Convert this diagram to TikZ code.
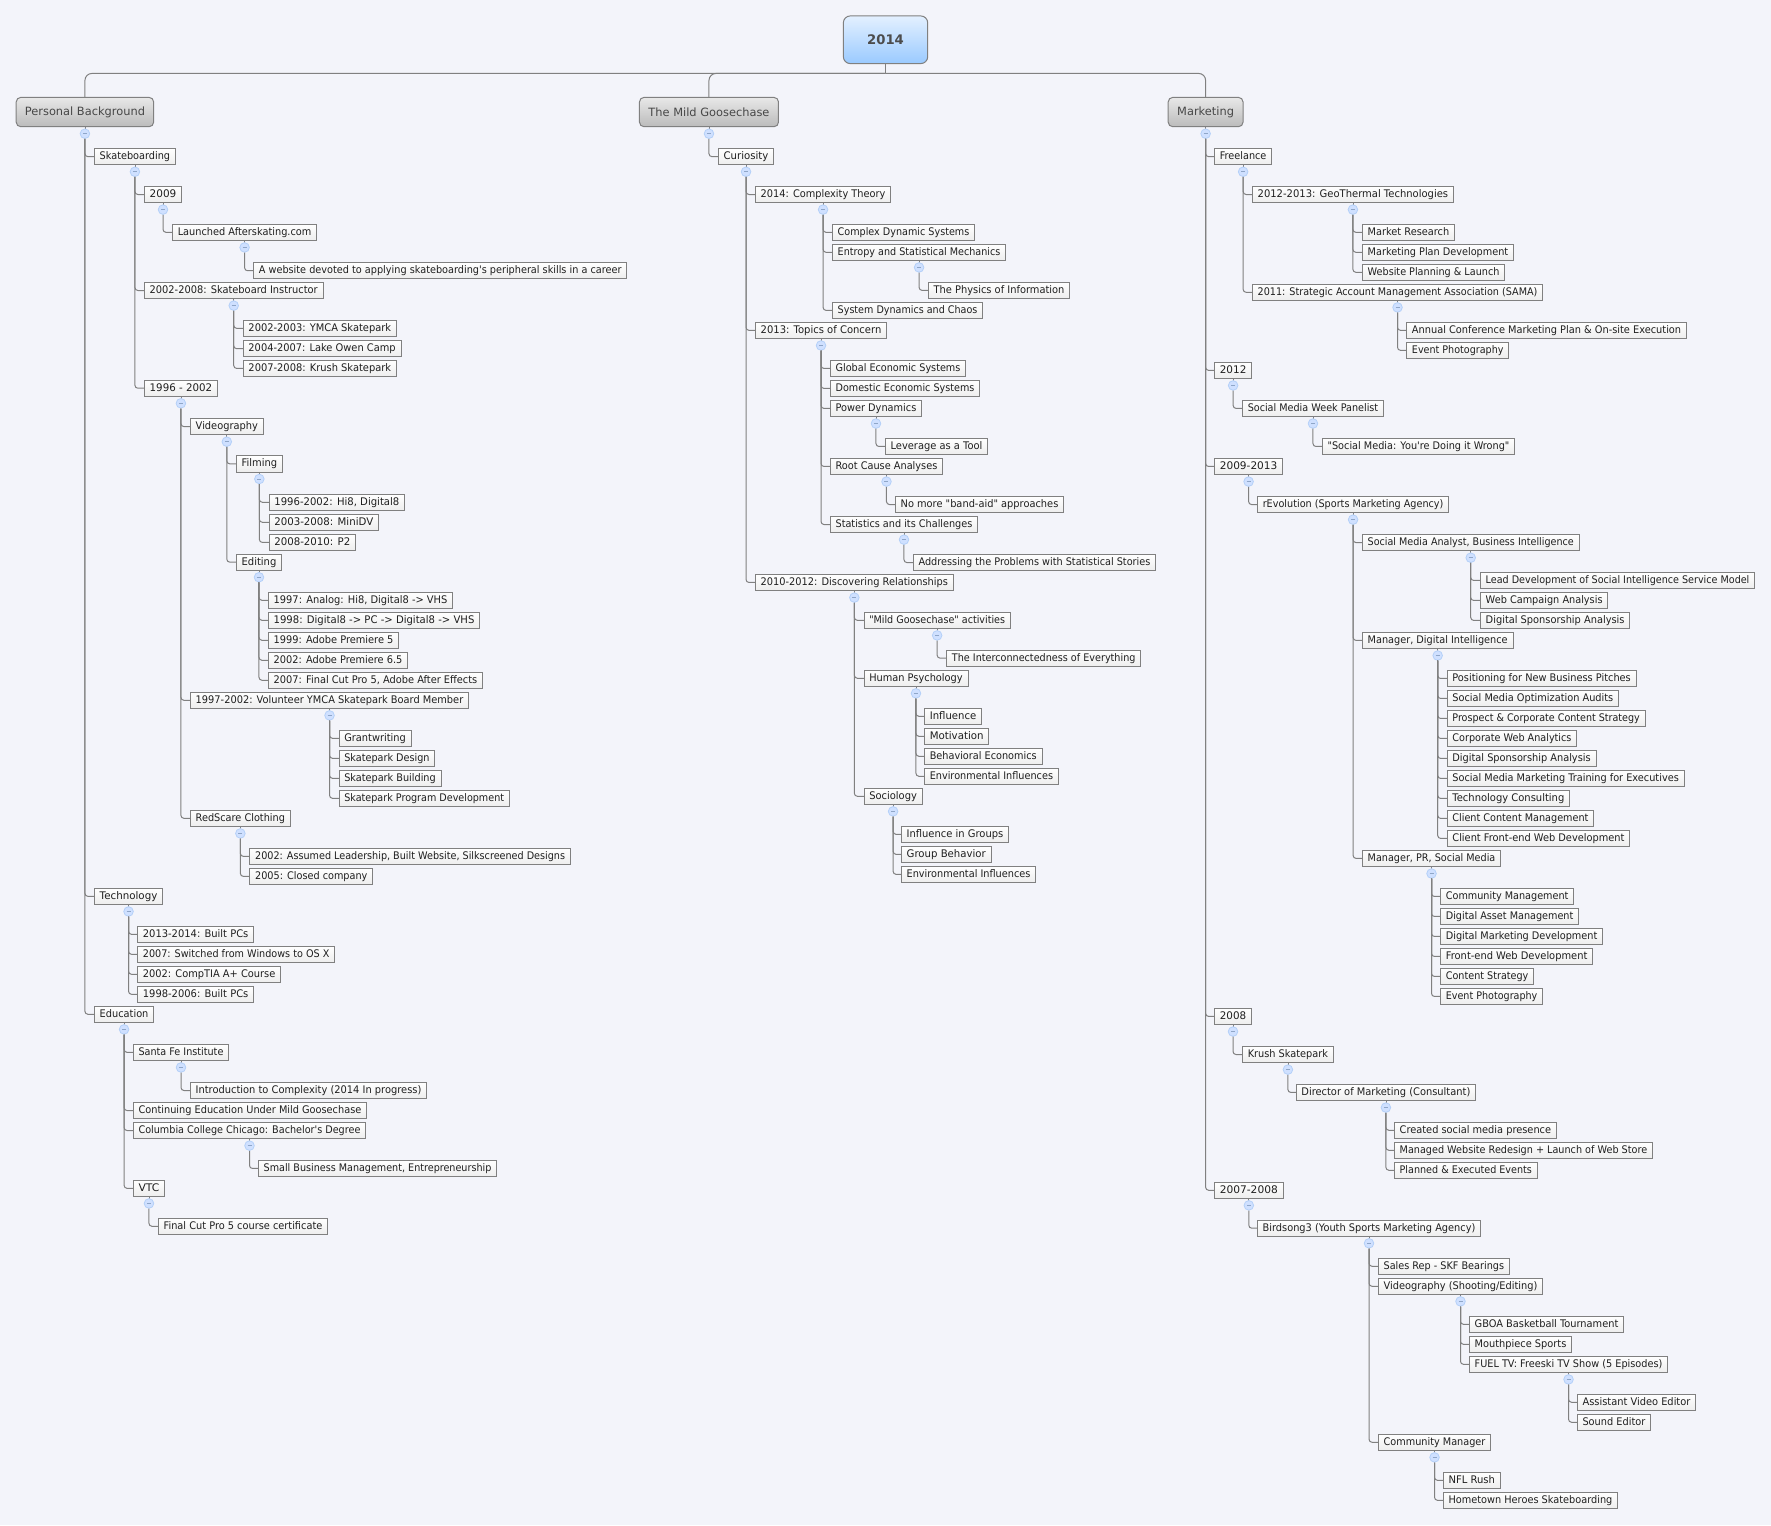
\documentclass[tikz,border=0pt]{standalone}
\usepackage{fontspec}
\usepackage{graphicx}
\newfontfamily\mmfont{DejaVu Sans}
\definecolor{bgc}{HTML}{F3F4FA}
\definecolor{linec}{HTML}{808080}
\definecolor{togf}{HTML}{CFE0FF}
\definecolor{togd}{HTML}{B4D0F8}
\definecolor{togm}{HTML}{8FA6C8}
\definecolor{rootT}{HTML}{E3F0FF}
\definecolor{rootB}{HTML}{9ACAFF}
\definecolor{brT}{HTML}{E8E8E8}
\definecolor{brB}{HTML}{BBBBBB}
\newsavebox\mmbox
\newcommand{\MMleaf}[6]{%
  \node[leafbox] (#1) at (#3,#4+.7) {\sbox\mmbox{#6}\pgfmathsetmacro\mmsc{((#5-#3)*1.1295-10.6)/\the\wd\mmbox}\scalebox{\mmsc}[1.08]{\usebox\mmbox}};
  \draw[conn] (t-#2) |- (#1.west);}
\newcommand{\MMtog}[1]{%
  \draw[linec,line width=.8pt] (#1.south) -- ++(0,-3pt);
  \node[togg] (t-#1) at ([yshift=-7pt]#1.south) {};}
\newcommand{\MMhub}[6]{\MMleaf{#1}{#2}{#3}{#4}{#5}{#6}\MMtog{#1}}
\tikzset{
  x=1.1295pt,y=-1.1295pt,
  conn/.style={draw=linec,line width=1pt,rounded corners=3pt},
  leafbox/.style={anchor=west,draw=linec,line width=.9pt,top color=white,bottom color=black!7,outer sep=0pt,
    font=\mmfont\fontsize{9.7}{11}\selectfont,
    inner xsep=5.3pt,inner ysep=0pt,minimum height=16.2pt,text height=8.2pt,text depth=2.4pt,text=black!88},
  branch/.style={draw=linec,line width=1pt,rounded corners=4.5pt,top color=brT,bottom color=brB,outer sep=0pt,
    text=black!72,font=\mmfont\fontsize{11.4}{13}\selectfont,inner xsep=0pt,inner ysep=0pt,minimum height=29.3pt},
  rootbox/.style={draw=linec,line width=1pt,rounded corners=7pt,top color=rootT,bottom color=rootB,outer sep=0pt,
    text=black!70,font=\mmfont\bfseries\fontsize{13.2}{16}\selectfont,minimum width=84.4pt,minimum height=47.7pt},
  togg/.style={circle,draw=togd,fill=togf,line width=.8pt,minimum size=9.6pt,inner sep=0pt,
    path picture={\draw[togm,line width=.7pt] ([xshift=-2pt]path picture bounding box.center) -- ([xshift=2pt]path picture bounding box.center);}},
}
\begin{document}
\begin{tikzpicture}
\fill[bgc] (0,0) rectangle (1567.96,1350.2);
\useasboundingbox (0,0) rectangle (1567.96,1350.2);
\node[rootbox] (root) at (784,35.2) {2014};
\coordinate (bar) at (784,65);
\node[branch,minimum width=137.4pt] (pb) at (75.2,99.2) {Personal Background};
\node[branch,minimum width=139pt] (mg) at (627.7,99.2) {The Mild Goosechase};
\node[branch,minimum width=74.8pt] (mk) at (1067.4,99.2) {Marketing};
\draw[conn] (root.south) -- (bar);
\draw[conn,rounded corners=7pt] (bar) -| (pb.north);
\draw[conn,rounded corners=7pt] (bar) -| (mg.north);
\draw[conn,rounded corners=7pt] (bar) -| (mk.north);
\MMtog{pb}\MMtog{mg}\MMtog{mk}
% Personal Background
\MMhub{a1}{pb}{83.6}{138}{155.3}{Skateboarding}
\MMhub{a2}{a1}{127.85}{171.5}{160.8}{2009}
\MMhub{a3}{a2}{152.7}{205}{280.4}{Launched Afterskating.com}
\MMleaf{a4}{a3}{224.5}{239}{555}{A website devoted to applying skateboarding's peripheral skills in a career}
\MMhub{a5}{a1}{127.85}{256.5}{286}{2002-2008: Skateboard Instructor}
\MMleaf{a6}{a5}{215.3}{290}{351}{2002-2003: YMCA Skatepark}
\MMleaf{a7}{a5}{215.3}{308}{355}{2004-2007: Lake Owen Camp}
\MMleaf{a8}{a5}{215.3}{325.5}{351}{2007-2008: Krush Skatepark}
\MMhub{a9}{a1}{127.85}{343}{192.5}{1996 - 2002}
\MMhub{a10}{a9}{168.6}{377}{233}{Videography}
\MMhub{a11}{a10}{209.2}{410}{250}{Filming}
\MMleaf{a12}{a11}{238.2}{444}{358.3}{1996-2002: Hi8, Digital8}
\MMleaf{a13}{a11}{238.2}{461.7}{335.2}{2003-2008: MiniDV}
\MMleaf{a14}{a11}{238.2}{479.5}{314.9}{2008-2010: P2}
\MMhub{a15}{a10}{209.2}{497}{249.4}{Editing}
\MMleaf{a16}{a15}{237.6}{530.8}{400.8}{1997: Analog: Hi8, Digital8 -> VHS}
\MMleaf{a17}{a15}{237.6}{548.5}{424.7}{1998: Digital8 -> PC -> Digital8 -> VHS}
\MMleaf{a18}{a15}{237.6}{566.2}{353}{1999: Adobe Premiere 5}
\MMleaf{a19}{a15}{237.6}{583.9}{361}{2002: Adobe Premiere 6.5}
\MMleaf{a20}{a15}{237.6}{601.6}{427.3}{2007: Final Cut Pro 5, Adobe After Effects}
\MMhub{a21}{a9}{168.6}{619.3}{414.9}{1997-2002: Volunteer YMCA Skatepark Board Member}
\MMleaf{a22}{a21}{300.15}{653}{364}{Grantwriting}
\MMleaf{a23}{a21}{300.15}{670.7}{385}{Skatepark Design}
\MMleaf{a24}{a21}{300.15}{688.4}{390.5}{Skatepark Building}
\MMleaf{a25}{a21}{300.15}{706.1}{451}{Skatepark Program Development}
\MMhub{a26}{a9}{168.6}{723.8}{257}{RedScare Clothing}
\MMleaf{a27}{a26}{221.2}{757.5}{505}{2002: Assumed Leadership, Built Website, Silkscreened Designs}
\MMleaf{a28}{a26}{221.2}{775.2}{330}{2005: Closed company}
\MMhub{a29}{pb}{83.6}{792.9}{144}{Technology}
\MMleaf{a30}{a29}{121.8}{826.5}{224.6}{2013-2014: Built PCs}
\MMleaf{a31}{a29}{121.8}{844.2}{296.3}{2007: Switched from Windows to OS X}
\MMleaf{a32}{a29}{121.8}{861.9}{248.5}{2002: CompTIA A+ Course}
\MMleaf{a33}{a29}{121.8}{879.6}{224.6}{1998-2006: Built PCs}
\MMhub{a34}{pb}{83.6}{897.3}{136.1}{Education}
\MMhub{a35}{a34}{118}{931}{202.5}{Santa Fe Institute}
\MMleaf{a36}{a35}{168.5}{964.8}{377.8}{Introduction to Complexity (2014 In progress)}
\MMleaf{a37}{a34}{118}{982.5}{324.6}{Continuing Education Under Mild Goosechase}
\MMhub{a38}{a34}{118}{1000.2}{323.8}{Columbia College Chicago: Bachelor's Degree}
\MMleaf{a39}{a38}{228.8}{1033.8}{439.7}{Small Business Management, Entrepreneurship}
\MMhub{a40}{a34}{118}{1051.4}{145.8}{VTC}
\MMleaf{a41}{a40}{140.2}{1085}{290.1}{Final Cut Pro 5 course certificate}
% Mild Goosechase
\MMhub{b1}{mg}{636}{138}{685}{Curiosity}
\MMhub{b2}{b1}{668.8}{171.5}{788.6}{2014: Complexity Theory}
\MMleaf{b3}{b2}{737}{205}{862.9}{Complex Dynamic Systems}
\MMhub{b4}{b2}{737}{222.7}{890.4}{Entropy and Statistical Mechanics}
\MMleaf{b5}{b4}{821.9}{256.4}{947.1}{The Physics of Information}
\MMleaf{b6}{b2}{737}{274.1}{870}{System Dynamics and Chaos}
\MMhub{b7}{b1}{668.8}{291.8}{785}{2013: Topics of Concern}
\MMleaf{b8}{b7}{735.1}{325.5}{855}{Global Economic Systems}
\MMleaf{b9}{b7}{735.1}{343.2}{867.4}{Domestic Economic Systems}
\MMhub{b10}{b7}{735.1}{360.9}{816}{Power Dynamics}
\MMleaf{b11}{b10}{783.8}{394.6}{874.4}{Leverage as a Tool}
\MMhub{b12}{b7}{735.1}{412.3}{834.6}{Root Cause Analyses}
\MMleaf{b13}{b12}{792.7}{446}{941.7}{No more "band-aid" approaches}
\MMhub{b14}{b7}{735.1}{463.7}{865.6}{Statistics and its Challenges}
\MMleaf{b15}{b14}{808.6}{497.4}{1023.2}{Addressing the Problems with Statistical Stories}
\MMhub{b16}{b1}{668.8}{515}{844}{2010-2012: Discovering Relationships}
\MMhub{b17}{b16}{764.9}{548.5}{894.5}{"Mild Goosechase" activities}
\MMleaf{b18}{b17}{838.1}{582}{1010}{The Interconnectedness of Everything}
\MMhub{b19}{b16}{764.9}{599.8}{857}{Human Psychology}
\MMleaf{b20}{b19}{818.5}{633.5}{869}{Influence}
\MMleaf{b21}{b19}{818.5}{651.2}{875.5}{Motivation}
\MMleaf{b22}{b19}{818.5}{668.9}{922.5}{Behavioral Economics}
\MMleaf{b23}{b19}{818.5}{686.6}{937}{Environmental Influences}
\MMhub{b24}{b16}{764.9}{704.3}{816.5}{Sociology}
\MMleaf{b25}{b24}{798}{738}{893}{Influence in Groups}
\MMleaf{b26}{b24}{798}{755.7}{877.5}{Group Behavior}
\MMleaf{b27}{b24}{798}{773.4}{917}{Environmental Influences}
% Marketing
\MMhub{c1}{mk}{1075.3}{138}{1125.9}{Freelance}
\MMhub{c2}{c1}{1108.8}{171.5}{1286.8}{2012-2013: GeoThermal Technologies}
\MMleaf{c3}{c2}{1206.2}{205}{1287.8}{Market Research}
\MMleaf{c4}{c2}{1206.2}{222.7}{1340}{Marketing Plan Development}
\MMleaf{c5}{c2}{1206.2}{240.4}{1332.2}{Website Planning \& Launch}
\MMhub{c6}{c1}{1108.8}{258.1}{1365.8}{2011: Strategic Account Management Association (SAMA)}
\MMleaf{c7}{c6}{1245.4}{291.8}{1493.1}{Annual Conference Marketing Plan \& On-site Execution}
\MMleaf{c8}{c6}{1245.4}{309.5}{1335.8}{Event Photography}
\MMhub{c9}{mk}{1075.3}{327.2}{1108.2}{2012}
\MMhub{c10}{c9}{1100}{360.9}{1224.9}{Social Media Week Panelist}
\MMleaf{c11}{c10}{1170.7}{394.6}{1341}{"Social Media: You're Doing it Wrong"}
\MMhub{c12}{mk}{1075.3}{412.3}{1135.6}{2009-2013}
\MMhub{c13}{c12}{1113.3}{446}{1282.6}{rEvolution (Sports Marketing Agency)}
\MMhub{c14}{c13}{1206.2}{479.7}{1398}{Social Media Analyst, Business Intelligence}
\MMleaf{c15}{c14}{1310.7}{513.2}{1553.5}{Lead Development of Social Intelligence Service Model}
\MMleaf{c16}{c14}{1310.7}{530.9}{1423.5}{Web Campaign Analysis}
\MMleaf{c17}{c14}{1310.7}{548.6}{1443}{Digital Sponsorship Analysis}
\MMhub{c18}{c13}{1206.2}{566.3}{1339.5}{Manager, Digital Intelligence}
\MMleaf{c19}{c18}{1281.2}{600}{1448.5}{Positioning for New Business Pitches}
\MMleaf{c20}{c18}{1281.2}{617.7}{1433}{Social Media Optimization Audits}
\MMleaf{c21}{c18}{1281.2}{635.4}{1456.5}{Prospect \& Corporate Content Strategy}
\MMleaf{c22}{c18}{1281.2}{653.1}{1396}{Corporate Web Analytics}
\MMleaf{c23}{c18}{1281.2}{670.8}{1413}{Digital Sponsorship Analysis}
\MMleaf{c24}{c18}{1281.2}{688.5}{1491}{Social Media Marketing Training for Executives}
\MMleaf{c25}{c18}{1281.2}{706.2}{1389.7}{Technology Consulting}
\MMleaf{c26}{c18}{1281.2}{723.9}{1411}{Client Content Management}
\MMleaf{c27}{c18}{1281.2}{741.6}{1442.9}{Client Front-end Web Development}
\MMhub{c28}{c13}{1206.2}{759.3}{1328.6}{Manager, PR, Social Media}
\MMleaf{c29}{c28}{1275.4}{793}{1393.3}{Community Management}
\MMleaf{c30}{c28}{1275.4}{810.7}{1397.7}{Digital Asset Management}
\MMleaf{c31}{c28}{1275.4}{828.4}{1418.9}{Digital Marketing Development}
\MMleaf{c32}{c28}{1275.4}{846.1}{1410.1}{Front-end Web Development}
\MMleaf{c33}{c28}{1275.4}{863.8}{1357.9}{Content Strategy}
\MMleaf{c34}{c28}{1275.4}{881.5}{1365.8}{Event Photography}
\MMhub{c35}{mk}{1075.3}{899.2}{1108}{2008}
\MMhub{c36}{c35}{1100}{932.9}{1180.5}{Krush Skatepark}
\MMhub{c37}{c36}{1147.5}{966.5}{1306.5}{Director of Marketing (Consultant)}
\MMleaf{c38}{c37}{1234.5}{1000}{1378}{Created social media presence}
\MMleaf{c39}{c37}{1234.5}{1017.7}{1463}{Managed Website Redesign + Launch of Web Store}
\MMleaf{c40}{c37}{1234.5}{1035.4}{1361}{Planned \& Executed Events}
\MMhub{c41}{mk}{1075.3}{1053.1}{1136}{2007-2008}
\MMhub{c42}{c41}{1113.2}{1086.7}{1310.9}{Birdsong3 (Youth Sports Marketing Agency)}
\MMleaf{c43}{c42}{1220.3}{1120.4}{1336.3}{Sales Rep - SKF Bearings}
\MMhub{c44}{c42}{1220.3}{1138.1}{1365.8}{Videography (Shooting/Editing)}
\MMleaf{c45}{c44}{1300.9}{1171.8}{1437.5}{GBOA Basketball Tournament}
\MMleaf{c46}{c44}{1300.9}{1189.5}{1391.5}{Mouthpiece Sports}
\MMhub{c47}{c44}{1300.9}{1207.2}{1476.5}{FUEL TV: Freeski TV Show (5 Episodes)}
\MMleaf{c48}{c47}{1396.4}{1240.8}{1501.3}{Assistant Video Editor}
\MMleaf{c49}{c47}{1396.4}{1258.5}{1461.4}{Sound Editor}
\MMhub{c50}{c42}{1220.3}{1276.2}{1319.8}{Community Manager}
\MMleaf{c51}{c50}{1277.8}{1309.9}{1328.3}{NFL Rush}
\MMleaf{c52}{c50}{1277.8}{1327.6}{1432.2}{Hometown Heroes Skateboarding}
\end{tikzpicture}
\end{document}
